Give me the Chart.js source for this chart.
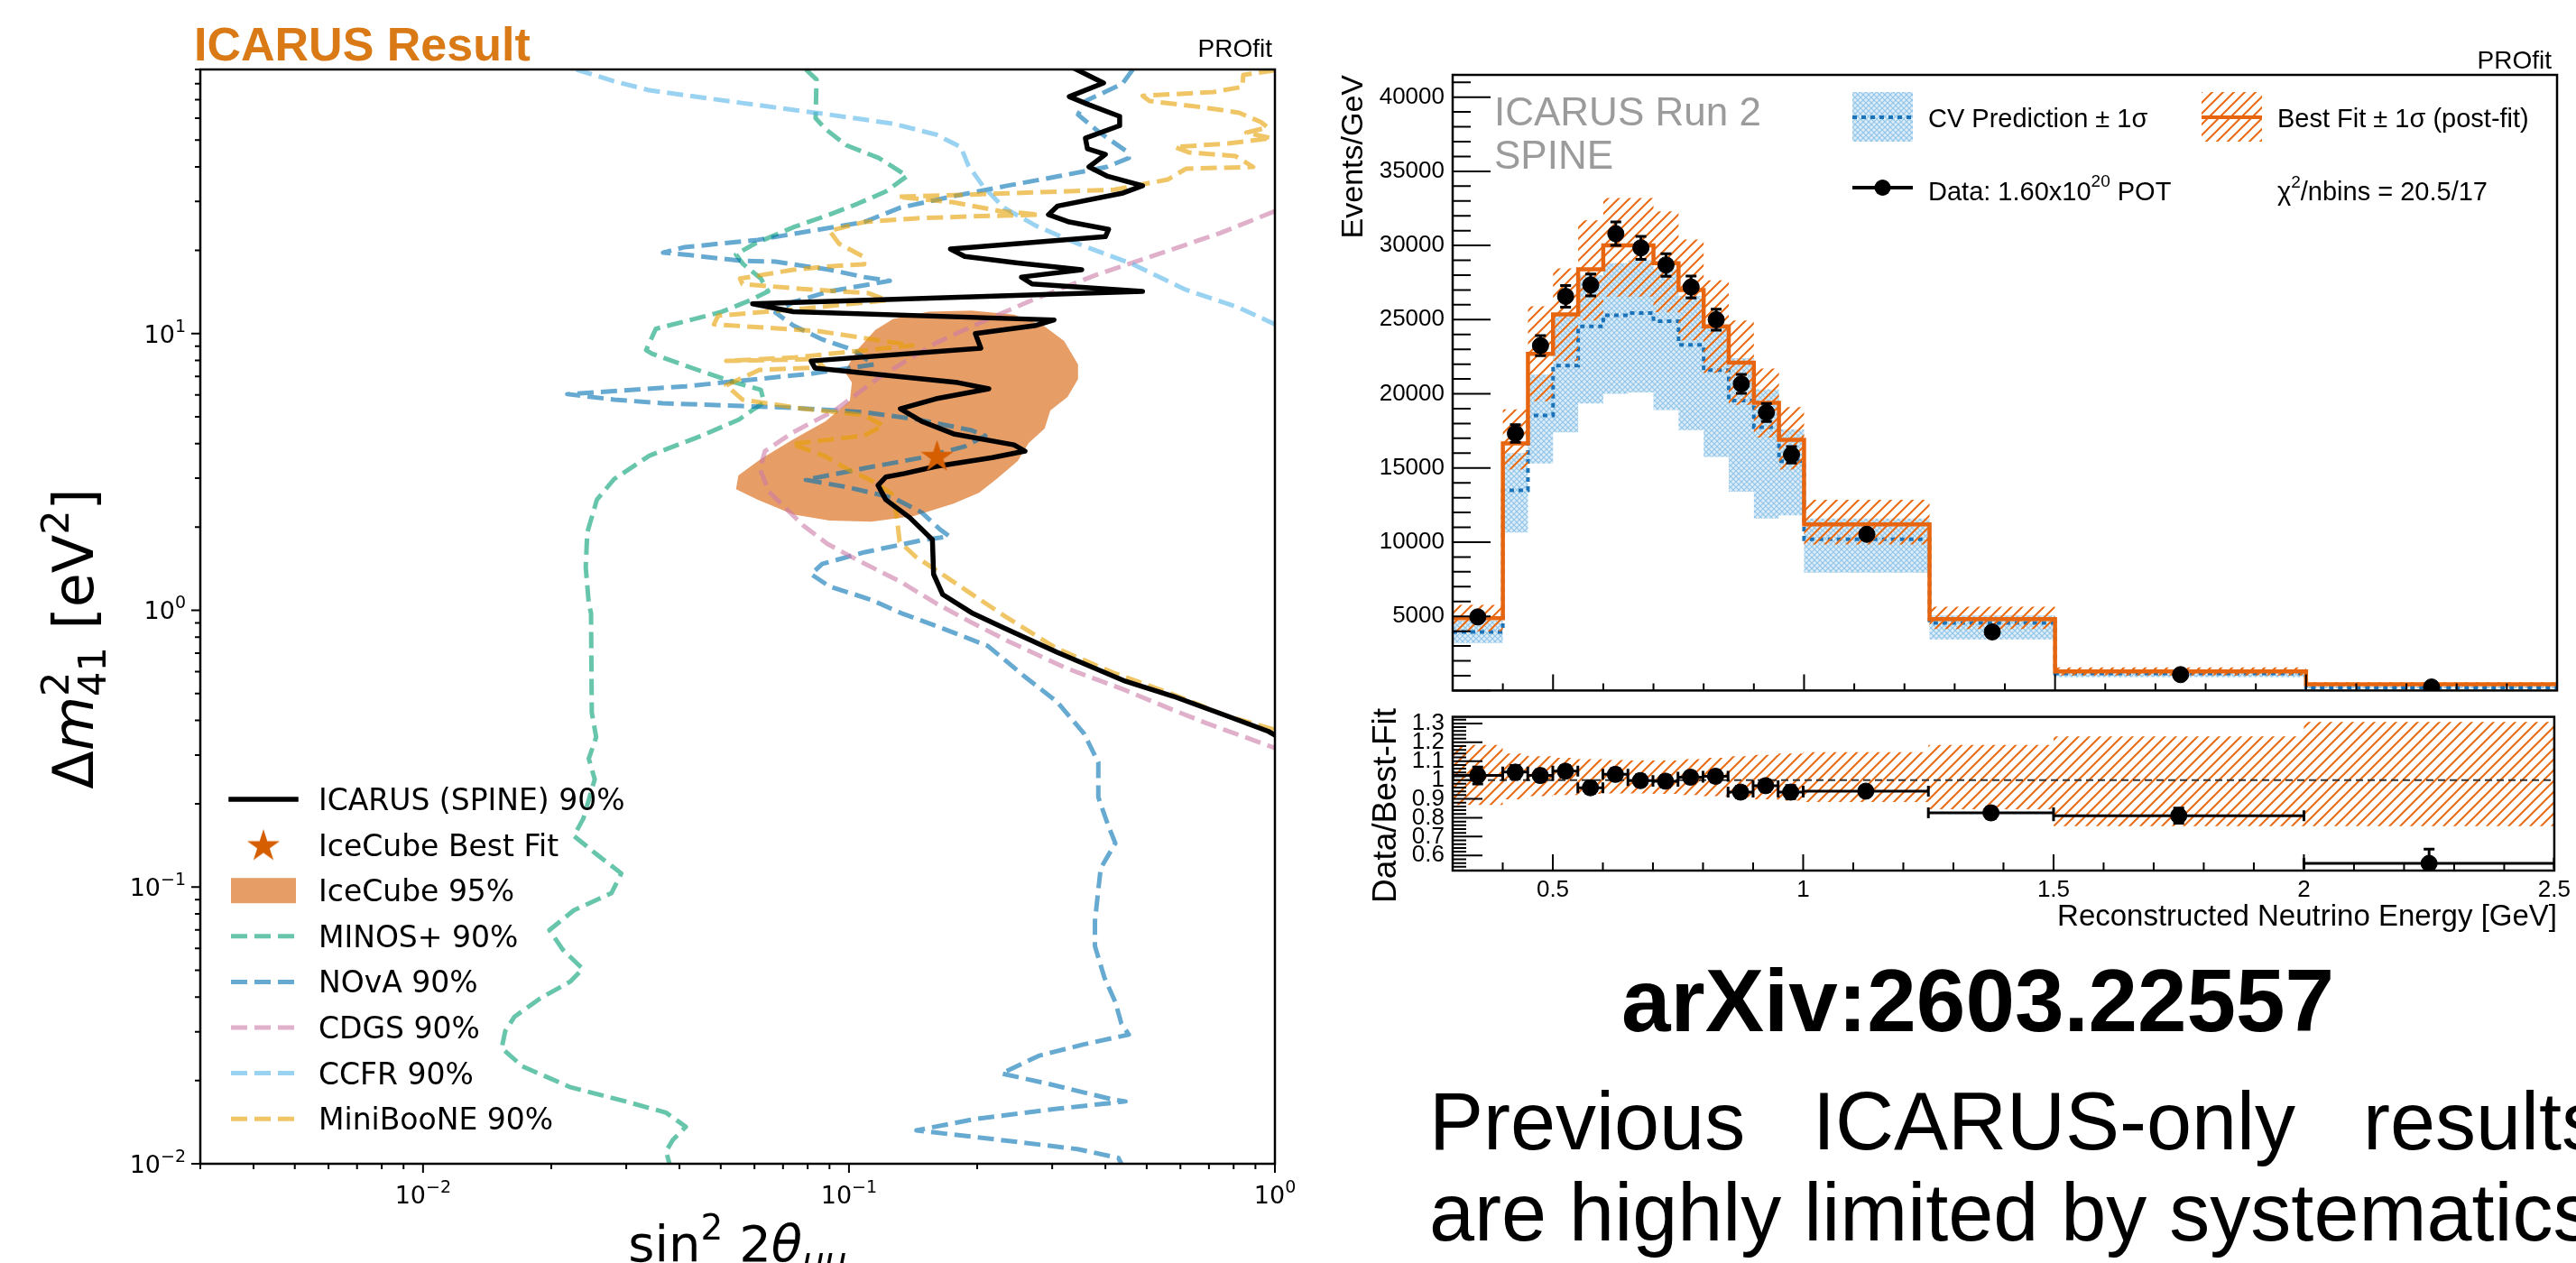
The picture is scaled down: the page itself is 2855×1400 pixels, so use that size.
<!DOCTYPE html>
<html>
<head>
<meta charset="utf-8">
<title>ICARUS Result</title>
<script src="https://cdn.jsdelivr.net/npm/chart.js@4.4.1/dist/chart.umd.min.js"></script>
<style>
  html, body { margin: 0; padding: 0; background: #fff; }
  body { width: 2855px; height: 1400px; overflow: hidden; position: relative; }
  canvas { position: absolute; }
  #arxiv { position: absolute; left: 1797px; top: 1060px; font: bold 98px/98px 'Liberation Sans', sans-serif; white-space: nowrap; color: #000; }
  #blurb { position: absolute; left: 1584px; top: 1193px; width: 1300px; font: 90px/101px 'Liberation Sans', sans-serif; text-align: justify; color: #000; }
</style>
</head>
<body>
<canvas id="contours" width="1450" height="1400" style="left:0;top:0;width:1450px;height:1400px"></canvas>
<canvas id="spectrum" width="1405" height="790" style="left:1450px;top:0;width:1405px;height:790px"></canvas>
<canvas id="ratio" width="1405" height="280" style="left:1450px;top:770px;width:1405px;height:280px"></canvas>
<div id="arxiv">arXiv:2603.22557</div>
<div id="blurb">Previous ICARUS-only results are highly limited by systematics</div>
<script>
// ---- left panel: 90% contours, [sin^2 2theta, dm2 (eV^2)] ----
const icarusSpine = [[0.342,90],[0.396,80.4],[0.329,71.8],[0.366,67.1],[0.432,60.9],[0.432,56.4],[0.359,50.8],[0.363,46.5],
  [0.400,44.4],[0.366,40.0],[0.403,37.1],[0.489,34.2],[0.440,32.2],[0.309,28.9],[0.294,26.9],[0.329,25.3],[0.407,23.8],
  [0.400,22.4],[0.173,20.2],[0.187,19.0],[0.249,18.0],[0.352,17.0],[0.254,16.0],[0.269,15.1],[0.489,14.2],[0.0594,12.8],
  [0.074,12.0],[0.303,11.2],[0.275,10.7],[0.198,10.0],[0.204,8.85],[0.0815,7.96],[0.0832,7.50],[0.180,6.65],[0.213,6.31],
  [0.160,5.81],[0.132,5.35],[0.148,4.82],[0.176,4.34],[0.244,3.96],[0.259,3.76],[0.217,3.56],[0.160,3.31],[0.135,3.12],
  [0.122,3.03],[0.117,2.83],[0.122,2.51],[0.139,2.16],[0.157,1.80],[0.158,1.35],[0.166,1.14],[0.194,0.98],[0.231,0.864],
  [0.308,0.705],[0.446,0.554],[0.577,0.489],[0.776,0.414],[0.966,0.365],[1.0,0.354]];
const icecubeBest = [[0.161,3.62]];
const icecube95 = [[0.127,11.3],[0.154,12.0],[0.194,12.1],[0.244,11.7],[0.286,10.7],[0.320,9.40],[0.345,7.73],[0.345,6.85],
  [0.326,5.90],[0.297,5.27],[0.288,4.54],[0.264,4.02],[0.249,3.46],[0.222,2.98],[0.202,2.66],[0.176,2.43],[0.142,2.19],
  [0.113,2.09],[0.090,2.11],[0.074,2.22],[0.0611,2.51],[0.0543,2.74],[0.0550,3.07],[0.0621,3.52],[0.074,4.15],[0.0881,4.82],
  [0.1005,5.73],[0.1016,6.65],[0.0977,7.28],[0.1045,8.71],[0.1153,10.3]];
const minosPlus = [[0.0792,90],[0.0839,82.8],[0.0835,60.0],[0.0881,54.8],[0.0986,47.9],[0.1175,43.1],[0.137,37.1],[0.122,32.6],
  [0.1045,29.4],[0.090,26.9],[0.074,24.2],[0.060,21.1],[0.0543,19.3],[0.0565,17.8],[0.0621,15.8],[0.0646,14.2],[0.0587,13.2],
  [0.0504,12.0],[0.0474,11.7],[0.0352,10.4],[0.0334,8.71],[0.0345,8.45],[0.0441,7.39],[0.0524,6.75],[0.0621,6.26],[0.0632,5.64],
  [0.060,5.35],[0.0552,4.89],[0.045,4.27],[0.034,3.62],[0.0281,2.98],[0.0256,2.51],[0.0243,1.91],[0.0241,1.43],[0.0245,1.06],
  [0.0248,0.975],[0.0249,0.427],[0.0255,0.348],[0.0245,0.291],[0.0253,0.245],[0.0238,0.177],[0.0226,0.153],[0.0256,0.131],
  [0.0292,0.112],[0.0277,0.0951],[0.0226,0.0824],[0.0198,0.0699],[0.0213,0.0593],[0.0237,0.0506],[0.0222,0.0456],[0.0188,0.0395],
  [0.0164,0.034],[0.0156,0.0302],[0.0153,0.0262],[0.0171,0.0225],[0.0222,0.0189],[0.0299,0.0168],[0.0372,0.0153],[0.0414,0.0136],
  [0.0386,0.0122],[0.0372,0.0111],[0.0379,0.01]];
const nova = [[0.464,90],[0.438,79.8],[0.359,69.2],[0.345,61.8],[0.388,53.2],[0.446,45.8],[0.454,43.1],[0.403,40.0],[0.313,37.1],
  [0.235,34.2],[0.173,31.2],[0.132,28.5],[0.1086,25.3],[0.0815,23.5],[0.0611,21.8],[0.041,20.5],[0.0366,19.6],[0.0424,19.2],
  [0.056,18.3],[0.0672,18.2],[0.090,17.0],[0.1086,16.0],[0.1247,15.5],[0.113,15.1],[0.090,14.2],[0.074,13.0],[0.0672,11.9],
  [0.074,10.7],[0.0865,9.53],[0.1026,8.71],[0.1143,7.73],[0.0815,7.16],[0.0611,6.85],[0.0414,6.45],[0.0218,6.04],[0.0281,5.77],
  [0.0365,5.60],[0.056,5.47],[0.074,5.39],[0.1086,5.20],[0.145,4.89],[0.194,4.47],[0.209,4.27],[0.187,3.91],[0.148,3.56],
  [0.1086,3.26],[0.0792,2.96],[0.0986,2.79],[0.127,2.55],[0.148,2.26],[0.163,1.97],[0.172,1.85],[0.148,1.79],[0.1086,1.62],
  [0.0865,1.47],[0.0815,1.35],[0.090,1.22],[0.113,1.09],[0.133,0.975],[0.167,0.857],[0.212,0.743],[0.259,0.575],[0.308,0.467],
  [0.356,0.359],[0.385,0.282],[0.385,0.211],[0.406,0.167],[0.422,0.144],[0.390,0.117],[0.385,0.0979],[0.378,0.0753],
  [0.378,0.0611],[0.398,0.047],[0.422,0.0384],[0.436,0.0321],[0.454,0.0293],[0.356,0.027],[0.280,0.0246],[0.228,0.0212],
  [0.296,0.0194],[0.414,0.0171],[0.446,0.0168],[0.308,0.0158],[0.197,0.0145],[0.144,0.0132],[0.197,0.0125],[0.344,0.0113],
  [0.429,0.0105],[0.436,0.01]];
const cdgs = [[1.0,27.7],[0.746,23.1],[0.508,18.9],[0.381,16.3],[0.269,13.2],[0.213,11.3],[0.160,9.25],[0.118,6.96],[0.0925,5.27],
  [0.074,4.40],[0.0635,3.76],[0.0618,3.24],[0.0649,2.68],[0.078,2.03],[0.0889,1.74],[0.1045,1.52],[0.132,1.27],[0.160,1.06],
  [0.194,0.903],[0.237,0.772],[0.321,0.621],[0.446,0.514],[0.577,0.436],[0.693,0.390],[1.0,0.318]];
const ccfr = [[0.0229,90],[0.0281,81.6],[0.034,75.7],[0.045,71.3],[0.056,68.1],[0.0672,65.6],[0.090,61.8],[0.127,57.3],[0.160,52.4],
  [0.183,47.2],[0.1905,40.6],[0.206,34.2],[0.231,28.5],[0.275,24.5],[0.345,21.1],[0.464,17.8],[0.618,14.4],[0.824,12.4],[1.0,10.8]];
const miniboone = [[1.0,89.3],[0.843,86.0],[0.839,77.9],[0.718,74.6],[0.489,72.3],[0.508,69.2],[0.681,65.6],[0.824,62.8],
  [0.925,58.2],[0.962,55.6],[0.857,53.2],[0.982,50.8],[0.776,48.6],[0.582,47.2],[0.630,45.1],[0.807,43.8],[0.889,40.0],
  [0.618,39.4],[0.560,36.0],[0.420,33.1],[0.235,32.1],[0.130,31.2],[0.176,29.8],[0.226,27.7],[0.280,26.9],[0.194,26.5],
  [0.145,26.1],[0.1086,25.3],[0.090,23.5],[0.0948,21.1],[0.1086,18.9],[0.1086,17.8],[0.090,17.5],[0.074,17.0],[0.0555,15.8],
  [0.0562,15.1],[0.0773,14.5],[0.111,14.0],[0.123,13.2],[0.078,12.3],[0.0493,11.6],[0.0482,10.8],[0.0847,10.2],[0.141,9.06],
  [0.110,8.71],[0.0745,8.20],[0.0515,7.96],[0.0835,8.09],[0.0873,7.55],[0.0616,7.39],[0.0515,6.50],[0.0562,5.77],[0.078,5.35],
  [0.108,5.08],[0.1205,4.65],[0.108,4.27],[0.0733,3.99],[0.0873,3.62],[0.0991,3.24],[0.113,2.94],[0.126,2.64],[0.129,2.28],
  [0.1315,1.77],[0.1435,1.56],[0.161,1.39],[0.187,1.19],[0.232,0.953],[0.308,0.727],[0.414,0.598],[0.577,0.496],[0.776,0.414],
  [1.0,0.370]];
const leftXMajor = [0.01, 0.1, 1];
const leftXExp = ['\u22122', '\u22121', '0'];
const leftYMajor = [0.01, 0.1, 1, 10];
const leftYExp = ['\u22122', '\u22121', '0', '1'];

// ---- right panel: reconstructed energy spectrum (events/GeV) ----
const binEdges = [0.3,0.4,0.45,0.5,0.55,0.6,0.65,0.7,0.75,0.8,0.85,0.9,0.95,1.0,1.25,1.5,2.0,2.5];
const binCenters = [0.35,0.425,0.475,0.525,0.575,0.625,0.675,0.725,0.775,0.825,0.875,0.925,0.975,1.125,1.375,1.75,2.25];
const cvPred = [3950,13500,18550,21900,24550,25300,25450,24900,23300,21600,19550,17750,15450,10200,4550,1150,200];
const cvUp = [4700,16000,21300,25300,28000,28800,29000,28400,26600,24600,22400,20300,17600,11600,5050,1350,260];
const cvDown = [3200,10650,15300,17400,19350,20000,20100,18900,17550,15750,13400,11600,11800,7950,3450,900,150];
const bestFit = [4870,16650,22700,25350,28400,30000,30000,28800,27000,24550,22100,19400,16900,11200,4820,1290,420];
const bestFitUp = [5770,18950,25900,28450,31700,33200,33200,32300,30400,27650,24950,21700,19100,12850,5650,1560,560];
const bestFitDown = [4000,14900,19500,22200,24950,26550,26550,25500,23600,21400,19250,17050,14900,9850,4150,1010,280];
const dataVals = [4960,17330,23250,26570,27340,30790,29840,28690,27200,25000,20670,18740,15890,10530,3950,1070,235];
const dataErr = [230,590,680,730,740,790,770,760,740,710,640,610,560,205,125,46,22];
const ratioVals = [1.024,1.042,1.024,1.047,0.959,1.030,0.997,0.994,1.015,1.020,0.936,0.970,0.936,0.941,0.826,0.811,0.558];
const ratioErr = [0.045,0.035,0.03,0.03,0.03,0.03,0.03,0.03,0.03,0.03,0.03,0.03,0.035,0.02,0.03,0.04,0.075];
const ratioBandUp = [1.186,1.141,1.126,1.118,1.111,1.106,1.103,1.103,1.111,1.118,1.126,1.133,1.141,1.148,1.186,1.232,1.308];
const ratioBandDown = [0.868,0.898,0.914,0.921,0.926,0.929,0.929,0.926,0.921,0.914,0.906,0.898,0.891,0.883,0.845,0.755,0.755];
const countTicks = [5000,10000,15000,20000,25000,30000,35000,40000];
const ratioTicks = [0.6,0.7,0.8,0.9,1.0,1.1,1.2,1.3];
const ratioLabels = ['0.6','0.7','0.8','0.9','1','1.1','1.2','1.3'];
const energyTicks = [0.5,1,1.5,2,2.5];
const energyLabels = ['0.5','1','1.5','2','2.5'];

Chart.defaults.font.family = 'Liberation Sans';
Chart.defaults.color = '#000';

const pts = pairs => pairs.map(([x, y]) => ({x, y}));
const stepPts = vals => binEdges.map((e, i) => ({x: e, y: vals[Math.min(i, vals.length - 1)]}));

function logMinors(lo, hi) {
  const out = [];
  for (let e = -4; e <= 2; e++) for (let m = 2; m < 10; m++) {
    const v = m * Math.pow(10, e);
    if (v >= lo * 0.999 && v <= hi * 1.001) out.push(v);
  }
  return out;
}
function linTicks(lo, hi, step, skipEvery) {
  const out = [];
  for (let k = Math.round(lo / step); k * step <= hi + 1e-9; k++) {
    if (skipEvery && k % skipEvery === 0) continue;
    out.push(+(k * step).toFixed(4));
  }
  return out;
}

function starImage(size, color) {
  const c = document.createElement('canvas');
  c.width = c.height = size;
  const g = c.getContext('2d');
  const R = size / 2 - 1, r = R * 0.382;
  g.translate(size / 2, size / 2 + 1.5);
  g.beginPath();
  for (let i = 0; i < 10; i++) {
    const rad = i % 2 ? r : R, a = -Math.PI / 2 + i * Math.PI / 5;
    g.lineTo(rad * Math.cos(a), rad * Math.sin(a));
  }
  g.closePath();
  g.fillStyle = color;
  g.fill();
  return c;
}
function makePattern(size, draw) {
  const c = document.createElement('canvas');
  c.width = c.height = size;
  draw(c.getContext('2d'), size);
  return c.getContext('2d').createPattern(c, 'repeat');
}
const hatchOrange = makePattern(12, (g, s) => {
  g.strokeStyle = '#ea6b12'; g.lineWidth = 2;
  g.beginPath();
  g.moveTo(-2, s + 2); g.lineTo(s + 2, -2);
  g.moveTo(-2, 2); g.lineTo(2, -2);
  g.moveTo(s - 2, s + 2); g.lineTo(s + 2, s - 2);
  g.stroke();
});
const meshBlue = makePattern(6, (g, s) => {
  g.fillStyle = '#dcedf9'; g.fillRect(0, 0, s, s);
  g.strokeStyle = '#92c5e8'; g.lineWidth = 1.2;
  g.beginPath();
  g.moveTo(0, 0); g.lineTo(s, s);
  g.moveTo(0, s); g.lineTo(s, 0);
  g.stroke();
});
const starImg = starImage(40, '#d55e00');

// rich text: runs of text with their own font and vertical shift
function richWidth(ctx, parts) {
  let w = 0;
  for (const p of parts) {
    ctx.font = p.font;
    w += p.sup !== undefined ? Math.max(ctx.measureText(p.sup).width, ctx.measureText(p.sub).width) : ctx.measureText(p.t).width;
  }
  return w;
}
function drawRich(ctx, parts, x, y, align) {
  const w = richWidth(ctx, parts);
  let cx = align === 'center' ? x - w / 2 : align === 'right' ? x - w : x;
  ctx.textAlign = 'left';
  ctx.textBaseline = 'alphabetic';
  for (const p of parts) {
    ctx.font = p.font;
    if (p.sup !== undefined) {
      ctx.fillText(p.sup, cx, y + p.supDy);
      ctx.fillText(p.sub, cx, y + p.subDy);
      cx += Math.max(ctx.measureText(p.sup).width, ctx.measureText(p.sub).width);
    } else {
      ctx.fillText(p.t, cx, y + (p.dy || 0));
      cx += ctx.measureText(p.t).width;
    }
  }
}

// frame + tick marks (len > 0 points outward, < 0 inward)
const boxTicks = {
  id: 'boxTicks',
  afterDatasetsDraw(chart, args, opts) {
    if (!opts.marks) return;
    const {ctx, chartArea: a} = chart;
    ctx.save();
    ctx.strokeStyle = '#000';
    ctx.lineWidth = opts.tickWidth;
    ctx.beginPath();
    for (const t of opts.marks) {
      const sc = chart.scales[t.axis];
      for (const v of t.values) {
        const p = sc.getPixelForValue(v);
        if (t.axis === 'x') { ctx.moveTo(p, a.bottom); ctx.lineTo(p, a.bottom + t.len); }
        else { ctx.moveTo(a.left, p); ctx.lineTo(a.left - t.len, p); }
      }
    }
    ctx.stroke();
    ctx.lineWidth = opts.frameWidth;
    ctx.strokeRect(a.left, a.top, a.right - a.left, a.bottom - a.top);
    ctx.restore();
  }
};

// error bars for datasets that carry errY (and optionally xLo/xHi)
const errorBars = {
  id: 'errorBars',
  beforeDatasetDraw(chart, args) {
    const ds = chart.data.datasets[args.index];
    if (!ds.errY) return;
    const {ctx, chartArea: a} = chart;
    const xs = chart.scales.x, ys = chart.scales.y, cap = 6;
    ctx.save();
    ctx.beginPath();
    ctx.rect(a.left, a.top, a.right - a.left, a.bottom - a.top);
    ctx.clip();
    ctx.strokeStyle = '#000';
    ctx.lineWidth = 3;
    ctx.beginPath();
    ds.data.forEach((p, i) => {
      const x = xs.getPixelForValue(p.x), y = ys.getPixelForValue(p.y);
      const y0 = ys.getPixelForValue(p.y - ds.errY[i]), y1 = ys.getPixelForValue(p.y + ds.errY[i]);
      ctx.moveTo(x, y0); ctx.lineTo(x, y1);
      ctx.moveTo(x - cap, y0); ctx.lineTo(x + cap, y0);
      ctx.moveTo(x - cap, y1); ctx.lineTo(x + cap, y1);
      if (ds.xLo) {
        const xl = xs.getPixelForValue(ds.xLo[i]), xh = xs.getPixelForValue(ds.xHi[i]);
        ctx.moveTo(xl, y); ctx.lineTo(xh, y);
        ctx.moveTo(xl, y - cap); ctx.lineTo(xl, y + cap);
        ctx.moveTo(xh, y - cap); ctx.lineTo(xh, y + cap);
      }
    });
    ctx.stroke();
    ctx.restore();
  }
};
Chart.register(boxTicks, errorBars);

// ================= left: exclusion contours =================
function contour(label, pairs, color, order, rank) {
  return { label, data: pts(pairs), showLine: true, borderColor: color, borderWidth: 5, borderDash: [18, 8],
    borderCapStyle: 'butt', borderJoinStyle: 'round', pointRadius: 0, fill: false, order, legendRank: rank, kind: 'dash' };
}

const leftDecor = {
  id: 'leftDecor',
  afterDraw(chart) {
    const {ctx, chartArea: a} = chart;
    const xs = chart.scales.x, ys = chart.scales.y;
    ctx.save();
    ctx.fillStyle = '#d97a17';
    ctx.font = 'bold 52px "Liberation Sans"';
    ctx.textAlign = 'left';
    ctx.fillText('ICARUS Result', 215, 67);
    ctx.fillStyle = '#000';
    ctx.font = '28px "Liberation Sans"';
    ctx.textAlign = 'right';
    ctx.fillText('PROfit', 1410, 63);

    // decade tick labels, 10 with a raised exponent
    const TF = '27px "DejaVu Sans"', TS = '19px "DejaVu Sans"';
    leftXMajor.forEach((v, i) => {
      drawRich(ctx, [{t: '10', font: TF}, {t: leftXExp[i], font: TS, dy: -12}], xs.getPixelForValue(v), 1334, 'center');
    });
    leftYMajor.forEach((v, i) => {
      drawRich(ctx, [{t: '10', font: TF}, {t: leftYExp[i], font: TS, dy: -12}], 206, ys.getPixelForValue(v) + 10, 'right');
    });

    const F = '56px "DejaVu Sans"', FI = 'italic 56px "DejaVu Sans"', S = '39px "DejaVu Sans"', SI = 'italic 39px "DejaVu Sans"';
    drawRich(ctx, [{t: 'sin', font: F}, {t: '2', font: S, dy: -24}, {t: ' 2', font: F}, {t: '\u03B8', font: FI},
      {t: '\u03BC\u03BC', font: SI, dy: 12}], (a.left + a.right) / 2, 1398, 'center');
    const G = '62px "DejaVu Sans"', GI = 'italic 62px "DejaVu Sans"', GS = '43px "DejaVu Sans"';
    ctx.save();
    ctx.translate(103, 708);
    ctx.rotate(-Math.PI / 2);
    drawRich(ctx, [{t: '\u0394', font: G}, {t: 'm', font: GI}, {sup: '2', sub: '41', font: GS, supDy: -27, subDy: 14},
      {t: ' [eV', font: G}, {t: '2', font: GS, dy: -27}, {t: ']', font: G}], 0, 0, 'center');
    ctx.restore();

    // legend, in the order the datasets were ranked
    const rows = chart.data.datasets.filter(d => d.legendRank !== undefined).sort((p, q) => p.legendRank - q.legendRank);
    const x0 = 256, x1 = 328;
    rows.forEach((d, i) => {
      const yc = 886 + i * 50.6;
      ctx.save();
      if (d.kind === 'star') {
        ctx.drawImage(starImg, (x0 + x1) / 2 - 20, yc - 20);
      } else if (d.kind === 'patch') {
        ctx.fillStyle = d.backgroundColor;
        ctx.fillRect(x0, yc - 14, x1 - x0, 28);
      } else {
        ctx.strokeStyle = d.borderColor;
        ctx.lineWidth = d.borderWidth;
        ctx.setLineDash(d.kind === 'dash' ? d.borderDash : []);
        ctx.lineCap = d.kind === 'dash' ? 'butt' : 'square';
        ctx.beginPath();
        ctx.moveTo(x0, yc); ctx.lineTo(x1, yc);
        ctx.stroke();
      }
      ctx.restore();
      ctx.fillStyle = '#000';
      ctx.font = '33px "DejaVu Sans"';
      ctx.textAlign = 'left';
      ctx.textBaseline = 'alphabetic';
      ctx.fillText(d.label, 353, yc + 12);
    });
    ctx.restore();
  }
};

new Chart(document.getElementById('contours'), {
  type: 'line',
  data: { datasets: [
    { label: 'IceCube Best Fit', data: pts(icecubeBest), showLine: false, pointStyle: starImg, pointRadius: 18,
      order: 0, legendRank: 1, kind: 'star' },
    { label: 'ICARUS (SPINE) 90%', data: pts(icarusSpine), showLine: true, borderColor: '#000', borderWidth: 5.5,
      borderJoinStyle: 'round', borderCapStyle: 'square', pointRadius: 0, fill: false, order: 1, legendRank: 0, kind: 'solid' },
    contour('MiniBooNE 90%', miniboone, 'rgba(230,159,0,0.6)', 2, 7),
    contour('CCFR 90%', ccfr, 'rgba(86,180,233,0.6)', 3, 6),
    contour('CDGS 90%', cdgs, 'rgba(204,121,167,0.6)', 4, 5),
    contour('NOvA 90%', nova, 'rgba(0,114,178,0.6)', 5, 4),
    contour('MINOS+ 90%', minosPlus, 'rgba(0,158,115,0.6)', 6, 3),
    { label: 'IceCube 95%', data: pts(icecube95), showLine: true, fill: 'shape', backgroundColor: 'rgba(213,94,0,0.6)',
      borderColor: 'rgba(0,0,0,0)', borderWidth: 0, pointRadius: 0, order: 9, legendRank: 2, kind: 'patch' }
  ]},
  options: {
    responsive: false, animation: false, devicePixelRatio: 1, events: [],
    layout: { padding: { left: 0, top: 77, right: 37, bottom: 0 } },
    scales: {
      x: { type: 'logarithmic', min: 0.003, max: 1,
        afterBuildTicks: s => { s.ticks = leftXMajor.map(v => ({value: v})); },
        afterFit: s => { s.height = 110; },
        ticks: { display: false }, grid: { display: false, drawTicks: false }, border: { display: false } },
      y: { type: 'logarithmic', min: 0.01, max: 90,
        afterBuildTicks: s => { s.ticks = leftYMajor.map(v => ({value: v})); },
        afterFit: s => { s.width = 222; },
        ticks: { display: false }, grid: { display: false, drawTicks: false }, border: { display: false } }
    },
    plugins: {
      legend: { display: false }, tooltip: { enabled: false },
      boxTicks: { frameWidth: 2.5, tickWidth: 2, marks: [
        { axis: 'x', values: logMinors(0.003, 1), len: 6 }, { axis: 'x', values: leftXMajor, len: 10 },
        { axis: 'y', values: logMinors(0.01, 90), len: 6 }, { axis: 'y', values: leftYMajor, len: 10 } ] }
    }
  },
  plugins: [leftDecor]
});

// ================= right top: spectrum =================
const specDecor = {
  id: 'specDecor',
  afterDraw(chart) {
    const ctx = chart.ctx;
    ctx.save();
    ctx.textAlign = 'left';
    ctx.textBaseline = 'alphabetic';
    ctx.fillStyle = '#9b9b9b';
    ctx.font = '44px "Liberation Sans"';
    ctx.fillText('ICARUS Run 2', 206, 139);
    ctx.fillText('SPINE', 206, 187);

    // legend boxes
    ctx.fillStyle = meshBlue;
    ctx.fillRect(603, 102, 67, 55);
    ctx.strokeStyle = '#1a73b9'; ctx.lineWidth = 4; ctx.setLineDash([5, 5]);
    ctx.beginPath(); ctx.moveTo(603, 130); ctx.lineTo(670, 130); ctx.stroke();
    ctx.setLineDash([]);
    ctx.fillStyle = hatchOrange;
    ctx.fillRect(990, 102, 67, 55);
    ctx.strokeStyle = '#e8650f'; ctx.lineWidth = 4;
    ctx.beginPath(); ctx.moveTo(990, 130); ctx.lineTo(1057, 130); ctx.stroke();
    ctx.strokeStyle = '#000'; ctx.lineWidth = 4;
    ctx.beginPath(); ctx.moveTo(603, 208); ctx.lineTo(670, 208); ctx.stroke();
    ctx.fillStyle = '#000';
    ctx.beginPath(); ctx.arc(636.5, 208, 9, 0, Math.PI * 2); ctx.fill();

    const F = '29px "Liberation Sans"', S = '19px "Liberation Sans"';
    ctx.font = F;
    ctx.fillText('CV Prediction \u00B1 1\u03C3', 687, 141);
    ctx.fillText('Best Fit \u00B1 1\u03C3 (post-fit)', 1074, 141);
    drawRich(ctx, [{t: 'Data: 1.60x10', font: F}, {t: '20', font: S, dy: -15}, {t: ' POT', font: F}], 687, 222, 'left');
    drawRich(ctx, [{t: '\u03C7', font: F}, {t: '2', font: S, dy: -14}, {t: '/nbins = 20.5/17', font: F}], 1074, 222, 'left');

    ctx.font = '28px "Liberation Sans"';
    ctx.textAlign = 'right';
    ctx.fillText('PROfit', 1378, 76);
    ctx.save();
    ctx.translate(60, 83);
    ctx.rotate(-Math.PI / 2);
    ctx.font = '34px "Liberation Sans"';
    ctx.textAlign = 'right';
    ctx.fillText('Events/GeV', 0, 0);
    ctx.restore();
    ctx.restore();
  }
};

const stepLine = (vals, extra) => Object.assign({ data: stepPts(vals), showLine: true, stepped: 'before',
  pointRadius: 0, fill: false, borderColor: 'rgba(0,0,0,0)', borderWidth: 0 }, extra);

new Chart(document.getElementById('spectrum'), {
  type: 'line',
  data: { datasets: [
    stepLine(cvUp, { label: 'CV band', fill: '+1', backgroundColor: meshBlue, order: 6 }),
    stepLine(cvDown, { label: 'CV band low', order: 6 }),
    stepLine(cvPred, { label: 'CV Prediction', borderColor: '#1a73b9', borderWidth: 4, borderDash: [5, 5], order: 5 }),
    stepLine(bestFitUp, { label: 'Best Fit band', fill: '+1', backgroundColor: hatchOrange, order: 4 }),
    stepLine(bestFitDown, { label: 'Best Fit band low', order: 4 }),
    stepLine(bestFit, { label: 'Best Fit', borderColor: '#e8650f', borderWidth: 4.5, order: 3 }),
    { label: 'Data', data: binCenters.map((x, i) => ({x, y: dataVals[i]})), errY: dataErr, showLine: false,
      pointRadius: 9, pointBackgroundColor: '#000', pointBorderColor: '#000', order: 1 }
  ]},
  options: {
    responsive: false, animation: false, devicePixelRatio: 1, events: [],
    layout: { padding: { left: 0, top: 83, right: 21, bottom: 7 } },
    scales: {
      x: { type: 'linear', min: 0.3, max: 2.5, display: false },
      y: { type: 'linear', min: 0, max: 41500,
        afterBuildTicks: s => { s.ticks = countTicks.map(v => ({value: v})); },
        afterFit: s => { s.width = 160; },
        ticks: { callback: v => String(v), autoSkip: false, padding: 9, font: { size: 26 }, color: '#000' },
        grid: { display: false, drawTicks: false }, border: { display: false } }
    },
    plugins: {
      legend: { display: false }, tooltip: { enabled: false },
      boxTicks: { frameWidth: 2.5, tickWidth: 2, marks: [
        { axis: 'x', values: linTicks(0.4, 2.4, 0.1, 5), len: -8 }, { axis: 'x', values: energyTicks, len: -18 },
        { axis: 'y', values: linTicks(1000, 41000, 1000, 5), len: -20 }, { axis: 'y', values: linTicks(0, 40000, 5000), len: -42 } ] }
    }
  },
  plugins: [specDecor]
});

// ================= right bottom: ratio =================
const ratioDecor = {
  id: 'ratioDecor',
  afterDraw(chart) {
    const ctx = chart.ctx;
    ctx.save();
    ctx.fillStyle = '#000';
    ctx.translate(97, 15);
    ctx.rotate(-Math.PI / 2);
    ctx.font = '37px "Liberation Sans"';
    ctx.textAlign = 'right';
    ctx.textBaseline = 'alphabetic';
    ctx.fillText('Data/Best-Fit', 0, 0);
    ctx.restore();
    ctx.save();
    ctx.fillStyle = '#000';
    ctx.font = '33px "Liberation Sans"';
    ctx.textAlign = 'right';
    ctx.fillText('Reconstructed Neutrino Energy [GeV]', 1384, 256);
    ctx.restore();
  }
};

new Chart(document.getElementById('ratio'), {
  type: 'line',
  data: { datasets: [
    stepLine(ratioBandUp, { label: 'Best Fit band', fill: '+1', backgroundColor: hatchOrange, order: 4 }),
    stepLine(ratioBandDown, { label: 'Best Fit band low', order: 4 }),
    { label: 'unity', data: [{x: 0.3, y: 1}, {x: 2.5, y: 1}], showLine: true, borderColor: '#333', borderWidth: 2,
      borderDash: [8, 5], pointRadius: 0, fill: false, order: 3 },
    { label: 'Data/Best-Fit', data: binCenters.map((x, i) => ({x, y: ratioVals[i]})), errY: ratioErr,
      xLo: binEdges.slice(0, -1), xHi: binEdges.slice(1), showLine: false,
      pointRadius: 9, pointBackgroundColor: '#000', pointBorderColor: '#000', order: 1 }
  ]},
  options: {
    responsive: false, animation: false, devicePixelRatio: 1, events: [],
    layout: { padding: { left: 0, top: 15, right: 21, bottom: 5 } },
    scales: {
      x: { type: 'linear', min: 0.3, max: 2.5,
        afterBuildTicks: s => { s.ticks = energyTicks.map(v => ({value: v})); },
        afterFit: s => { s.height = 80; },
        ticks: { callback: (v, i) => energyLabels[i], autoSkip: false, maxRotation: 0, padding: 6, font: { size: 26 }, color: '#000' },
        grid: { display: false, drawTicks: false }, border: { display: false } },
      y: { type: 'linear', min: 0.52, max: 1.335,
        afterBuildTicks: s => { s.ticks = ratioTicks.map(v => ({value: v})); },
        afterFit: s => { s.width = 160; },
        ticks: { callback: (v, i) => ratioLabels[i], autoSkip: false, padding: 9, font: { size: 26 }, color: '#000' },
        grid: { display: false, drawTicks: false }, border: { display: false } }
    },
    plugins: {
      legend: { display: false }, tooltip: { enabled: false },
      boxTicks: { frameWidth: 2.5, tickWidth: 2, marks: [
        { axis: 'x', values: linTicks(0.4, 2.4, 0.1, 5), len: -9 }, { axis: 'x', values: energyTicks, len: -18 },
        { axis: 'y', values: linTicks(0.52, 1.32, 0.02, 5), len: -15 }, { axis: 'y', values: ratioTicks, len: -33 } ] }
    }
  },
  plugins: [ratioDecor]
});
</script>
</body>
</html>
